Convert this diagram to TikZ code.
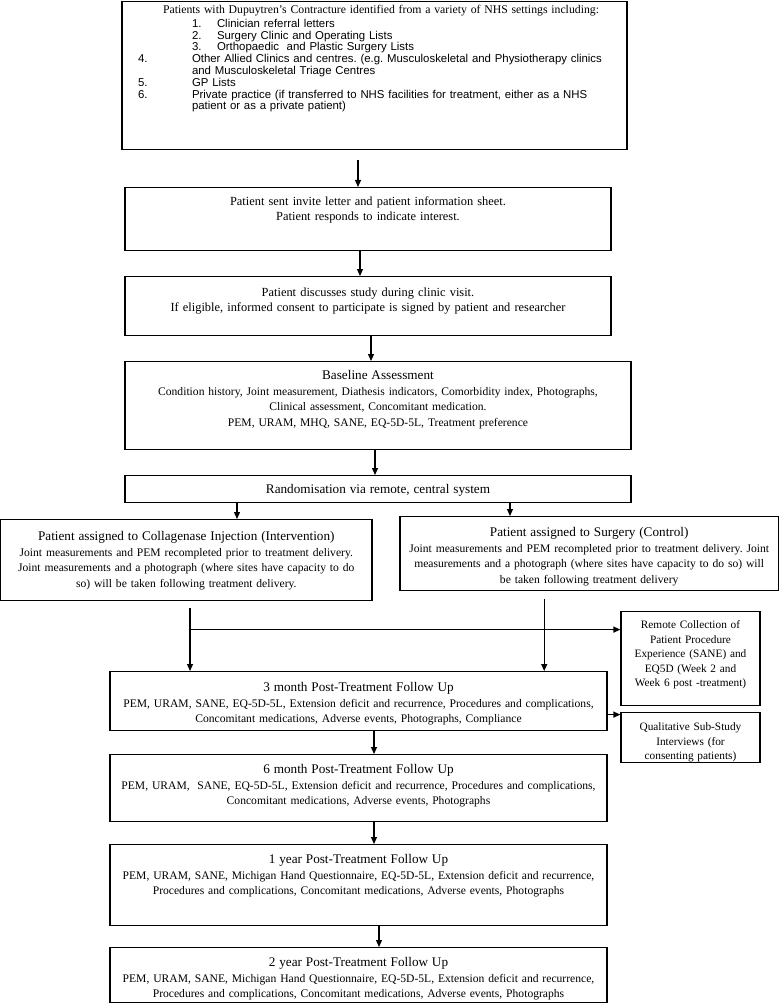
\documentclass[tikz,border=0pt]{standalone}
\usepackage{fontspec}
\setmainfont{Liberation Serif}
\setsansfont{Liberation Sans}
\usetikzlibrary{arrows.meta}
\newcommand{\hd}[1]{{\fontsize{13.2}{15}\selectfont #1}}
\frenchspacing

\begin{document}
\begin{tikzpicture}[x=1pt,y=-1pt,line width=1.2pt,>={Triangle[length=7pt,width=6pt]},
 box/.style={draw,align=center,anchor=north,inner xsep=3pt,inner ysep=0pt,font=\fontsize{11.6}{15.5}\selectfont}]
\useasboundingbox (0,0) rectangle (779,1003);
\node[box,align=left,inner xsep=4pt,text width=497pt,text height=12pt,text depth=136pt,font=\sffamily\fontsize{11.4}{11.8}\selectfont] (src) at (374.5,1) {%
\hspace*{37pt}{\rmfamily\fontsize{11.75}{12}\selectfont Patients with Dupuytren's Contracture identified from a variety of NHS settings including:}\\[2pt]
\hspace*{66pt}\makebox[25pt][l]{1.}Clinician referral letters\\
\hspace*{66pt}\makebox[25pt][l]{2.}Surgery Clinic and Operating Lists\\
\hspace*{66pt}\makebox[25pt][l]{3.}Orthopaedic\ \ and Plastic Surgery Lists\\
\hspace*{12pt}\makebox[54pt][l]{4.}Other Allied Clinics and centres. (e.g. Musculoskeletal and Physiotherapy clinics\\
\hspace*{66pt}and Musculoskeletal Triage Centres\\
\hspace*{12pt}\makebox[54pt][l]{5.}GP Lists\\
\hspace*{12pt}\makebox[54pt][l]{6.}Private practice (if transferred to NHS facilities for treatment, either as a NHS\\
\hspace*{66pt}patient or as a private patient)};
\node[box,text width=480pt,text height=18pt,text depth=45pt,font=\fontsize{12.4}{15}\selectfont] (invite) at (368,187) {Patient sent invite letter and patient information sheet.\\ Patient responds to indicate interest.};
\node[box,text width=480pt,text height=20pt,text depth=39pt,font=\fontsize{12.4}{15}\selectfont] (consent) at (368,276) {Patient discusses study during clinic visit.\\ If eligible, informed consent to participate is signed by patient and researcher};
\node[box,text width=500pt,text height=18pt,text depth=70pt] (base) at (378,361) {\hd{Baseline Assessment}\\ Condition history, Joint measurement, Diathesis indicators, Comorbidity index, Photographs,\\ Clinical assessment, Concomitant medication.\\ PEM, URAM, MHQ, SANE, EQ-5D-5L, Treatment preference};
\node[box,text width=500pt,text height=18pt,text depth=9pt] (rand) at (378,475) {\hd{Randomisation via remote, central system}};
\node[box,text width=365.4pt,text height=21pt,text depth=60pt] (coll) at (186.3,519) {\hd{Patient assigned to Collagenase Injection (Intervention)}\\ Joint measurements and PEM recompleted prior to treatment delivery.\\ Joint measurements and a photograph (where sites have capacity to do\\ so) will be taken following treatment delivery.};
\node[box,text width=372.4pt,text height=20pt,text depth=54pt] (surg) at (589.2,516) {\hd{Patient assigned to Surgery (Control)}\\ Joint measurements and PEM recompleted prior to treatment delivery. Joint\\ measurements and a photograph (where sites have capacity to do so) will\\ be taken following treatment delivery};
\node[box,text width=133pt,text height=17pt,text depth=77pt,font=\fontsize{11.3}{14.5}\selectfont] (remote) at (690.5,611) {Remote Collection of\\ Patient Procedure\\ Experience (SANE) and\\ EQ5D (Week 2 and\\ Week 6 post -treatment)};
\node[box,text width=491pt,text height=20pt,text depth=39pt] (m3) at (358.5,671) {\hd{3 month Post-Treatment Follow Up}\\ PEM, URAM, SANE, EQ-5D-5L, Extension deficit and recurrence, Procedures and complications,\\ Concomitant medications, Adverse events, Photographs, Compliance};
\node[box,text width=133pt,text height=18pt,text depth=32pt,font=\fontsize{11.3}{14.5}\selectfont] (qual) at (690.5,712) {Qualitative Sub-Study\\ Interviews (for\\ consenting patients)};
\node[box,text width=491pt,text height=19pt,text depth=48pt] (m6) at (358.5,754) {\hd{6 month Post-Treatment Follow Up}\\ PEM, URAM,\ \ SANE, EQ-5D-5L, Extension deficit and recurrence, Procedures and complications,\\ Concomitant medications, Adverse events, Photographs};
\node[box,text width=491pt,text height=19pt,text depth=62pt] (y1) at (358.5,844) {\hd{1 year Post-Treatment Follow Up}\\ PEM, URAM, SANE, Michigan Hand Questionnaire, EQ-5D-5L, Extension deficit and recurrence,\\ Procedures and complications, Concomitant medications, Adverse events, Photographs};
\node[box,text width=491pt,text height=19pt,text depth=36pt] (y2) at (358.5,947) {\hd{2 year Post-Treatment Follow Up}\\ PEM, URAM, SANE, Michigan Hand Questionnaire, EQ-5D-5L, Extension deficit and recurrence,\\ Procedures and complications, Concomitant medications, Adverse events, Photographs};
\coordinate (j) at ([yshift=29pt]remote.west);
\coordinate (k) at ([yshift=23pt]qual.west);
\draw[->] ([xshift=-16.5pt,yshift=-10pt]src.south) -- ([xshift=-16.5pt]src.south |- invite.north);
\draw[->] ([xshift=-8pt]invite.south) -- ([xshift=-8pt]invite.south |- consent.north);
\draw[->] ([xshift=3pt]consent.south) -- ([xshift=3pt]consent.south |- base.north);
\draw[->] ([xshift=-3pt]base.south) -- ([xshift=-3pt]base.south |- rand.north);
\draw[->] ([xshift=-141pt]rand.south) -- ([xshift=-141pt]rand.south |- coll.north);
\draw[->] ([xshift=132pt]rand.south) -- ([xshift=132pt]rand.south |- surg.north);
\draw[->] ([xshift=3.7pt,yshift=-7pt]coll.south) -- ([xshift=3.7pt]coll.south |- m3.north);
\draw[->] ([xshift=-45pt,yshift=-8pt]surg.south) -- ([xshift=-45pt]surg.south |- m3.north);
\draw[->] ([xshift=3.7pt]coll.south |- j) -- (j);
\draw[->] (m3.east |- k) -- (k);
\draw[->] ([xshift=15.5pt]m3.south) -- ([xshift=15.5pt]m3.south |- m6.north);
\draw[->] ([xshift=15.5pt]m6.south) -- ([xshift=15.5pt]m6.south |- y1.north);
\draw[->] ([xshift=20.5pt]y1.south) -- ([xshift=20.5pt]y1.south |- y2.north);
\end{tikzpicture}
\end{document}
